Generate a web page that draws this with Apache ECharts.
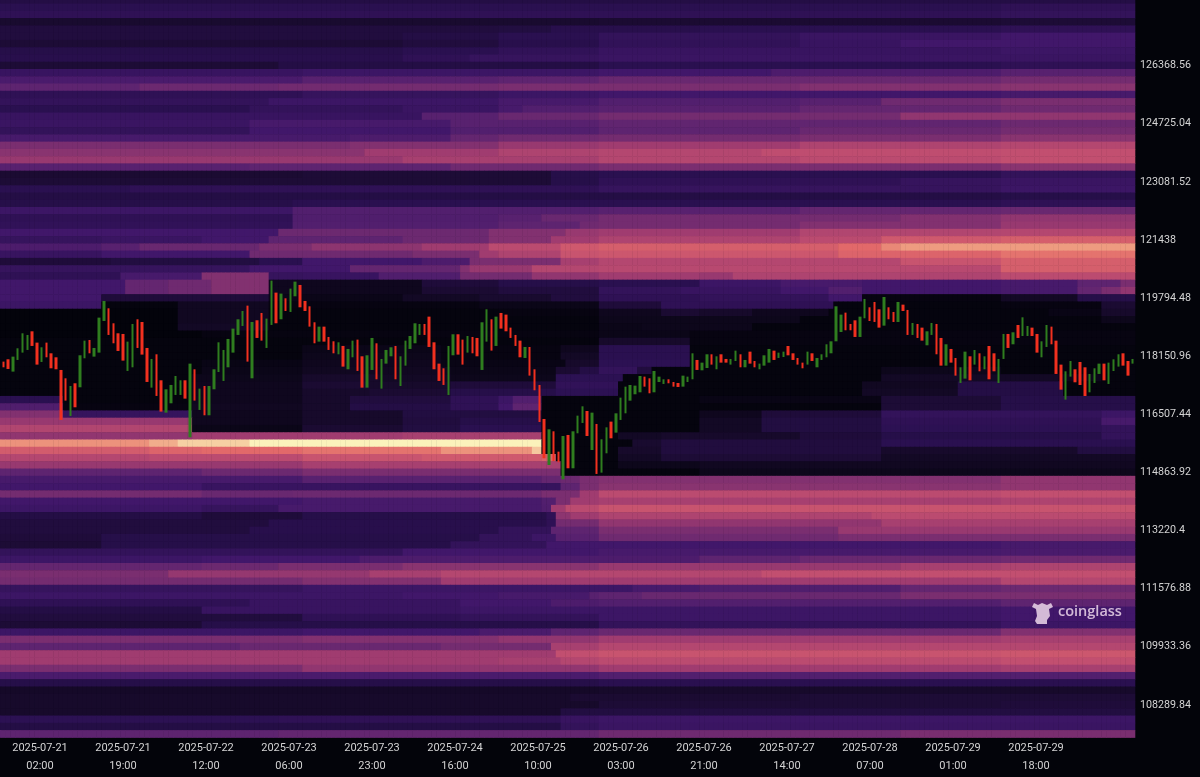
<!DOCTYPE html>
<html><head><meta charset="utf-8">
<style>html,body{margin:0;padding:0;background:#03040a}#c{width:1200px;height:777px}</style>
<script src="https://cdn.jsdelivr.net/npm/echarts@6/dist/echarts.min.js"></script>
</head><body><div id="c"></div>
<script>
const priceTickBase = 108289.84, priceStep = 205.44;
const dateLabels = ['2025-07-21','2025-07-21','2025-07-22','2025-07-23','2025-07-23','2025-07-24','2025-07-25','2025-07-26','2025-07-26','2025-07-27','2025-07-28','2025-07-29','2025-07-29'];
const timeLabels = ['02:00','19:00','12:00','06:00','23:00','16:00','10:00','03:00','21:00','14:00','07:00','01:00','18:00'];
const heatPalette = ['#03030b','#170a2b','#2a1050','#41176a','#5e2470','#7a2e70','#a03c70','#c24f70','#e2696a','#ee9c80','#fbf2bb'];
// Each row, top to bottom: [value, startColumn, value, startColumn, value ...]
const heatRows = [
[17],[20,209,22],[22,209,24],[11,125,12,209,13],[15,104,16,115,19,146,20,209,22],[15,84,17,104,20,125,24,167,27,209,30],[13,84,15,104,19,125,23,167,26,188,30],[18,84,20,104,23,125,26,209,28],[19,84,22,98,25,125,27],[13,58,17,125,20,209,22],
[26,63,28,125,30,161,34,209,38],[33,63,38,104,40,125,44,209,48],[40,29,45,58,47,77,48,104,50,167,52,209,54],[22,63,25,104,28,125,30,209,32],[24,56,28,104,32,125,36,167,38,184,46,209,50],[20,52,24,84,27,104,32,109,36,125,38,167,42,209,46],[26,88,38,104,44,125,48,188,56],[27,52,32,94,38,125,41,209,45],[24,52,30,94,36,125,40,167,44,209,48],[32,73,34,94,42,104,46,125,48,167,50,209,54],
[50,73,52,104,58,125,60,167,64,209,66],[54,76,60,104,64,125,66,159,69,209,70],[58,84,62,125,66,167,68,209,70],[38,52,40,94,46,125,50,209,54],[12,63,13,115,18,125,20,209,24],[13,115,18,125,22,188,25,209,27],[20,27,22,125,25,209,28],[17,209,18],[18,61,20,209,22],[28,61,36,125,38,167,42,209,44],
[22,61,35,104,38,113,44,125,48,188,52,209,56],[23,61,36,104,40,121,46,125,48,167,52,209,58],[30,58,45,102,52,118,58,125,60,167,65,209,66],[25,21,27,42,30,56,40,84,45,102,52,115,60,125,64,167,68,184,74,209,76],[34,21,38,29,44,54,50,65,55,88,60,102,68,117,74,125,76,175,80,184,86,188,90],[26,21,30,52,46,86,50,100,60,104,64,117,72,125,73,175,78,209,82],[14,23,16,54,20,63,30,88,34,98,50,117,62,125,66,188,72,209,76],[25,52,30,73,42,96,52,98,58,111,66,125,67,209,76],[22,25,32,42,52,56,25,63,26,79,35,96,48,111,56,125,60,146,58,153,64,209,68],[30,26,42,35,46,44,52,56,6,88,14,104,18,125,20,146,28,163,32,180,30,209,32,225,40,234,50],
[30,26,42,35,46,44,52,56,6,88,12,104,15,125,24,142,26,163,30,173,36,180,30,209,32,225,42,230,50,234,56],[30,21,14,56,4,84,8,100,11,115,15,125,22,146,24,173,30,180,2,209,8,225,18],[28,21,1,37,7,56,2,100,4,125,14,138,22,174,1,209,2,230,12],[0,37,7,56,1,104,2,125,6,138,12,146,10,157,6,173,1,219,3,230,10],[0,37,7,56,1,125,5,167,1,230,5],[0,37,8,56,1,125,4,134,5,157,1],[0,42,2,125,4,144,2],[1,125,10,144,2],[1,63,4,92,2,117,6,125,20,144,1],[1,63,5,92,2,117,8,125,20,144,1],
[1,42,3,63,6,92,3,118,10,125,21,144,1],[1,42,4,63,7,94,4,116,12,121,17,125,24,133,15,136,1,184,5,209,1],[1,40,5,63,10,79,8,94,5,116,21,130,1,184,8,221,5,230,1],[1,40,6,63,12,77,10,94,14,116,23,129,1,180,7,200,17,222,1],[1,40,6,63,10,77,12,94,18,116,21,129,1,180,8,200,17,222,1],[20,13,1,40,6,63,10,73,15,94,22,104,28,107,36,113,1,146,3,184,13,209,18],[35,13,2,40,7,63,10,73,17,94,22,104,30,107,40,113,1,184,13,209,18],[52,13,25,40,6,63,10,84,16,113,1,146,6,159,14,184,24,230,28],[58,40,6,63,10,84,15,96,18,113,1,146,8,159,16,184,22,230,32],[65,40,4,63,12,84,16,96,20,113,1,146,8,159,16,184,21,230,24],
[56,40,60,84,62,113,1,129,8,138,10,167,14,184,18,230,24],[88,31,92,37,96,52,100,113,1,132,11,138,15,184,20],[75,31,78,42,80,63,82,92,88,111,95,113,1,129,10,138,15,184,10,225,16],[66,31,68,63,72,88,74,113,77,116,1,129,8,138,13,184,8],[58,63,62,117,1,129,5,146,7],[40,42,45,63,50,117,1,146,5],[32,63,38,113,42,117,45,121,50,125,52,209,56],[30,42,26,113,25,117,40,121,50,125,54,209,56],[48,42,44,61,45,113,50,121,60,125,68,209,70],[30,63,32,113,36,116,50,119,60,125,62,209,64],
[28,42,25,58,32,113,35,115,60,118,68,125,72],[17,42,14,63,18,114,22,116,55,119,60,125,64,182,68],[15,56,19,114,22,116,48,125,56,184,62],[15,52,19,104,24,115,40,125,50,175,58],[14,21,18,100,24,111,28,116,38,125,46,175,50],[13,21,18,94,24,114,30,209,32],[24,84,30,125,32,209,33],[28,42,30,75,34,146,40,167,44,209,46],[42,42,45,58,50,84,54,125,58,188,62,209,64],[50,35,57,77,62,92,66,159,70],
[48,63,52,92,60,209,66],[25,63,28,132,32,146,35,188,42,209,45],[28,84,30,104,32,123,38,125,40,134,44,188,50],[22,52,26,96,30,115,34,125,36,209,40],[17,42,26,96,28,209,30],[15,63,22,96,24,125,28,209,30],[13,42,18,125,24,209,28],[28,63,30,100,33,115,40,125,44,209,52],[50,63,52,104,56,125,60,209,62],[40,50,44,92,48,115,62,125,66],
[60,116,70,125,72,209,73],[60,104,62,117,66,125,68,209,70],[50,63,56,125,60,209,62],[33,125,36],[18,125,20],[9,125,10],[10,119,12,167,13],[10,125,13,209,14],[10,117,16],[21,58,22,117,26,125,28],
[17,117,24,125,27],[40,58,42,125,46,188,50]
];
const candleOpen = [
118233,117998,118064,117715,118045,118252,118328,118855,118535,117988,
118535,118233,118120,117762,117526,116461,117385,117272,118092,118610,
118139,118252,119148,119506,119082,118799,118780,117734,117837,119195,
119119,118384,117262,118205,117470,116555,116819,117055,117055,117470,
115858,117781,116631,117309,116480,117215,117705,117451,117837,118252,
118752,119006,119581,117526,119167,119374,118384,119035,119949,119195,
119789,119402,119845,120166,119713,119562,119110,118563,118987,118695,
118573,118205,118441,117781,118120,118620,118148,117262,117762,118516,
117234,117941,118148,118441,117309,117884,118356,118516,118752,119063,
119270,118544,117941,117809,117055,118177,118771,118620,118252,118695,
118667,117762,118563,119195,118441,119374,119327,118959,118752,118591,
118101,118412,117781,117338,116376,115075,116027,115452,114670,115924,
114981,115971,116263,116602,115499,116235,114858,115405,116301,115989,
116348,116536,116894,117074,117130,117573,117526,117130,117422,117366,
117498,117422,117394,117290,117422,117498,118045,117752,117818,118205,
117781,118205,118073,117913,118016,118205,117837,118280,118016,117781,
117884,117969,118308,118101,118129,118440,118233,118101,117969,117913,
118233,117837,118045,118120,118233,118572,118836,119383,119063,119166,
118695,119223,119534,119685,119477,119015,119534,119402,119119,119609,
119459,118752,119063,118959,118459,118752,119063,118667,117884,118356,
118101,117394,117517,118148,117913,118233,117781,118440,118233,117394,
118073,118780,118488,119034,118723,118723,118959,118780,118120,118412,
118987,118591,117913,116923,117573,117781,117988,117837,117130,117394,
117649,117941,117366,117733,117856,118233,118016,117941
];
const candleClose = [
117856,117837,117790,118139,118375,118799,118752,118441,117913,118403,
118120,117809,117781,116348,116895,117309,116706,118177,118591,118233,
118384,119242,119713,118752,118516,118299,118026,118563,119063,118384,
118196,117423,118073,117027,116584,117215,117338,117592,117470,116951,
117941,116895,117234,116480,117309,117781,118544,118328,118639,118931,
119195,119430,117998,119119,118667,118591,119214,120288,119082,119921,
119430,120062,120260,119534,119430,118987,118516,118987,118563,118328,
118233,118544,117856,118356,118591,117734,117262,118177,118667,117498,
118073,118328,118403,117498,118148,118591,118723,119082,119063,118752,
118412,117781,117451,117338,118441,118771,118196,117913,118723,118233,
118148,119110,119478,118309,119270,118931,118855,118667,118441,118120,
118412,117602,117187,116291,115264,116084,115188,115151,115895,114981,
116027,116470,116734,115895,116555,114821,115801,116140,115829,116536,
116979,117290,117337,117319,117592,117290,117102,117733,117573,117498,
117385,117290,117281,117601,117573,118233,117762,117969,118205,117913,
118148,117969,117969,118073,118308,117837,118045,117941,117837,117941,
118176,118356,118045,118252,118280,118176,118045,117913,117809,118280,
118016,118101,118205,118488,118572,119562,119327,118884,118884,118695,
119270,119770,119147,119119,118959,119826,119195,119119,119685,119430,
118752,119091,118667,118591,118855,119091,118205,117884,118488,117969,
117601,117837,118280,117469,118327,117724,118148,117498,117724,118073,
118780,118384,118827,118667,119251,119006,118723,118252,118572,119034,
118488,117649,117205,117724,118016,117413,117337,117026,117649,117809,
117941,117469,117969,118063,118205,117884,117601,118073
];
const START = Date.UTC(2025,6,20,17);
const hourCategories = candleOpen.map((_, i) => new Date(START + i*3600000).toISOString().slice(0,16).replace('T',' '));
const rowPrices = heatRows.map((_, i) => String(Number((priceTickBase + (i-4)*priceStep).toFixed(2))));
const heatData = [];
heatRows.forEach((row, rowIdx) => {
  const y = heatRows.length - 1 - rowIdx;
  let val = row[0], next = 1;
  for (let c = 0; c < hourCategories.length; c++) {
    while (next < row.length && c >= row[next] + 1) { val = row[next+1]; next += 2; }
    heatData.push([c, y, val]);
  }
});
const candleData = candleOpen.map((o,i) => { const c = candleClose[i]; return [o, c, Math.min(o,c), Math.max(o,c)]; });

const chart = echarts.init(document.getElementById('c'), null, {renderer:'canvas'});
chart.setOption({
  animation:false,
  backgroundColor:'#03040a',
  grid:{left:-3.85, top:-3.4, width:1138.9, height:741, containLabel:false, show:false, outerBoundsMode:'none'},
  visualMap:{show:false, type:'continuous', min:0, max:100, dimension:2, seriesIndex:0, inRange:{color:heatPalette}},
  xAxis:[
    {type:'category', data:hourCategories, show:false, boundaryGap:true},
    {type:'value', min:-43.85/83, max:1095.05/83, position:'bottom', splitLine:{show:false}, axisLine:{show:false},
     axisTick:{show:false, customValues:timeLabels.map((_,i)=>i)},
     axisLabel:{customValues:timeLabels.map((_,i)=>i), color:'#d4d4d4', fontFamily:'Roboto', fontSize:11, lineHeight:18, margin:2,
       formatter:(v)=>dateLabels[v]+'\n'+timeLabels[v]}}
  ],
  yAxis:[
    {type:'category', data:rowPrices, position:'right', axisLine:{show:false}, axisTick:{show:false}, splitLine:{show:false},
     axisLabel:{color:'#d4d4d4', fontFamily:'Roboto', fontSize:10.7, margin:5, interval:(i)=>i%8===4 && i<=92}},
    {type:'value', show:false, min:priceTickBase-4.5*priceStep, max:priceTickBase+97.5*priceStep, scale:true}
  ],
  series:[
    {type:'heatmap', xAxisIndex:0, yAxisIndex:0, data:heatData, progressive:0, itemStyle:{borderWidth:0}, emphasis:{disabled:true}},
    {type:'candlestick', xAxisIndex:0, yAxisIndex:1, data:candleData, barWidth:3, progressive:0, clip:true,
     itemStyle:{color:'#2f7d1f', color0:'#f2301f', borderColor:'#2f7d1f', borderColor0:'#f2301f', borderWidth:0}}
  ],
  graphic:[
    {type:'polygon', z:100, x:1032, y:601, silent:true, shape:{points:[[2,2],[6,4],[10,2],[15,4],[19,2],[21,6],[17,8],[18,15],[15,19],[15,23],[5,23],[3,20],[5,15],[4,8],[0,6]]}, style:{fill:'#e3cce3', opacity:0.9}},
    {type:'text', z:100, x:1058, y:604, style:{text:'coinglass', fill:'#e3cce3', opacity:0.9, font:'600 14.5px "Open Sans"'}, silent:true}
  ]
});
</script></body></html>
